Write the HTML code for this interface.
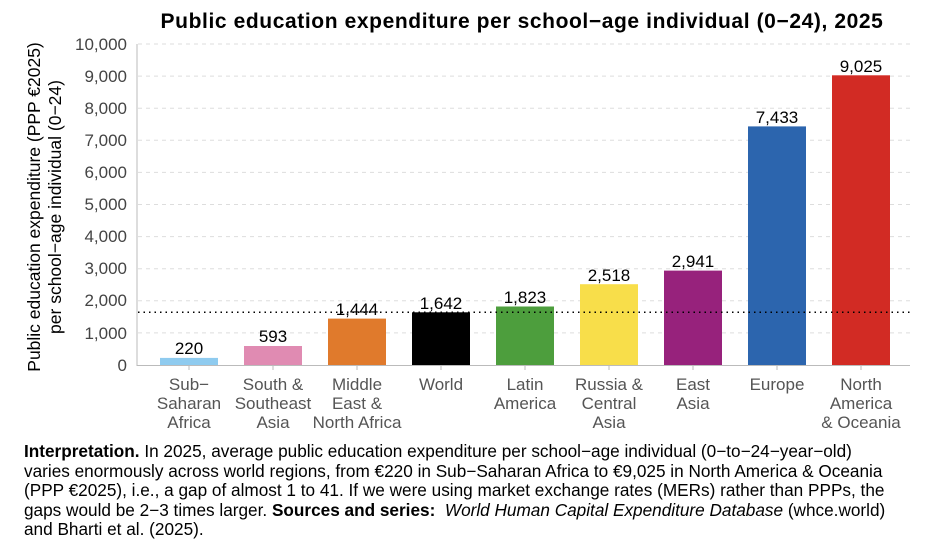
<!DOCTYPE html>
<html><head><meta charset="utf-8"><style>
body{margin:0;background:#fff;width:936px;height:550px;overflow:hidden;font-family:"Liberation Sans",Arial,sans-serif}
.note{position:absolute;left:24px;top:442px;width:912px;font-size:17.2px;line-height:19.5px;color:#000;white-space:nowrap}
</style></head><body>
<svg width="936" height="440" style="position:absolute;left:0;top:0" font-family="Liberation Sans, Arial, sans-serif">
<text x="522" y="28" text-anchor="middle" font-size="21" font-weight="bold" letter-spacing="0.6">Public education expenditure per school−age individual (0−24), 2025</text>
<g stroke="#ddd" stroke-dasharray="4,4" stroke-width="1">
<line x1="138" x2="910" y1="44" y2="44"/><line x1="138" x2="910" y1="76.1" y2="76.1"/><line x1="138" x2="910" y1="108.2" y2="108.2"/><line x1="138" x2="910" y1="140.3" y2="140.3"/><line x1="138" x2="910" y1="172.4" y2="172.4"/><line x1="138" x2="910" y1="204.5" y2="204.5"/><line x1="138" x2="910" y1="236.6" y2="236.6"/><line x1="138" x2="910" y1="268.7" y2="268.7"/><line x1="138" x2="910" y1="300.8" y2="300.8"/><line x1="138" x2="910" y1="332.9" y2="332.9"/>
</g>
<g font-size="17" fill="#444" text-anchor="end">
<text x="127" y="50">10,000</text><text x="127" y="82">9,000</text><text x="127" y="114">8,000</text><text x="127" y="146">7,000</text><text x="127" y="178">6,000</text><text x="127" y="210">5,000</text><text x="127" y="242">4,000</text><text x="127" y="274">3,000</text><text x="127" y="306">2,000</text><text x="127" y="339">1,000</text><text x="127" y="371">0</text>
</g>
<text transform="translate(40,207) rotate(-90)" text-anchor="middle" font-size="17.5" fill="#000">Public education expenditure (PPP €2025)</text>
<text transform="translate(61,207) rotate(-90)" text-anchor="middle" font-size="17.5" fill="#000">per school−age individual (0−24)</text>
<line x1="137" x2="137" y1="44" y2="366" stroke="#bbb"/>
<rect x="160" y="357.9" width="58" height="7.1" fill="#8fcbef"/>
<rect x="244" y="346" width="58" height="19" fill="#e08bb2"/>
<rect x="328" y="318.6" width="58" height="46.4" fill="#e07a2c"/>
<rect x="412" y="312.3" width="58" height="52.7" fill="#000"/>
<rect x="496" y="306.5" width="58" height="58.5" fill="#4d9e3d"/>
<rect x="580" y="284.2" width="58" height="80.8" fill="#f8de4a"/>
<rect x="664" y="270.6" width="58" height="94.4" fill="#97227c"/>
<rect x="748" y="126.4" width="58" height="238.6" fill="#2c65ae"/>
<rect x="832" y="75.3" width="58" height="289.7" fill="#d22b24"/>
<line x1="138" x2="910" y1="312.3" y2="312.3" stroke="#000" stroke-width="1.5" stroke-dasharray="1.5,4"/>
<line x1="137" x2="910" y1="365.5" y2="365.5" stroke="#bbb"/>
<g stroke="#bbb"><line x1="189" x2="189" y1="366" y2="370"/><line x1="273" x2="273" y1="366" y2="370"/><line x1="357" x2="357" y1="366" y2="370"/><line x1="441" x2="441" y1="366" y2="370"/><line x1="525" x2="525" y1="366" y2="370"/><line x1="609" x2="609" y1="366" y2="370"/><line x1="693" x2="693" y1="366" y2="370"/><line x1="777" x2="777" y1="366" y2="370"/><line x1="861" x2="861" y1="366" y2="370"/></g>
<g font-size="17" text-anchor="middle" fill="#000">
<text x="189" y="354">220</text><text x="273" y="342">593</text><text x="357" y="315">1,444</text><text x="441" y="309">1,642</text><text x="525" y="303">1,823</text><text x="609" y="281">2,518</text><text x="693" y="267">2,941</text><text x="777" y="123">7,433</text><text x="861" y="72">9,025</text>
</g>
<g font-size="17" text-anchor="middle" fill="#555">
<text x="189" y="390">Sub−</text><text x="189" y="409">Saharan</text><text x="189" y="428">Africa</text>
<text x="273" y="390">South &amp;</text><text x="273" y="409">Southeast</text><text x="273" y="428">Asia</text>
<text x="357" y="390">Middle</text><text x="357" y="409">East &amp;</text><text x="357" y="428">North Africa</text>
<text x="441" y="390">World</text>
<text x="525" y="390">Latin</text><text x="525" y="409">America</text>
<text x="609" y="390">Russia &amp;</text><text x="609" y="409">Central</text><text x="609" y="428">Asia</text>
<text x="693" y="390">East</text><text x="693" y="409">Asia</text>
<text x="777" y="390">Europe</text>
<text x="861" y="390">North</text><text x="861" y="409">America</text><text x="861" y="428">&amp; Oceania</text>
</g>
</svg>
<div class="note"><b>Interpretation.</b> In 2025, average public education expenditure per school−age individual (0−to−24−year−old)<br>varies enormously across world regions, from €220 in Sub−Saharan Africa to €9,025 in North America &amp; Oceania<br>(PPP €2025), i.e., a gap of almost 1 to 41. If we were using market exchange rates (MERs) rather than PPPs, the<br>gaps would be 2−3 times larger. <b>Sources and series:</b> &nbsp;<i>World Human Capital Expenditure Database</i> (whce.world)<br>and Bharti et al. (2025).</div>
</body></html>
